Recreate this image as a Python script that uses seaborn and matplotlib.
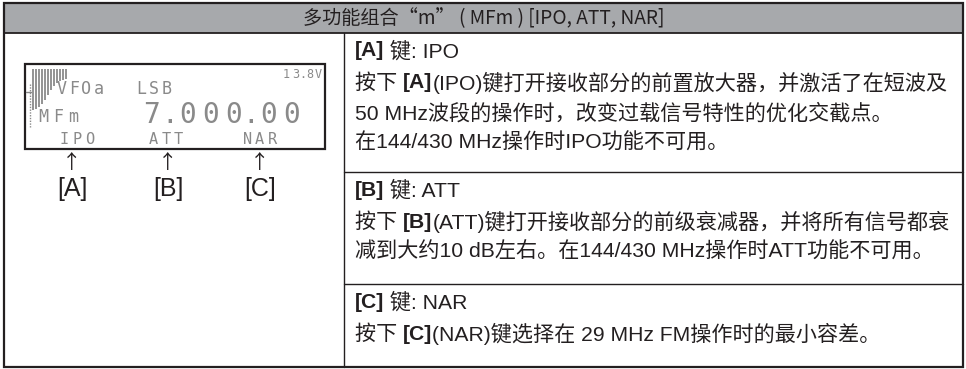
import matplotlib
matplotlib.use("Agg")
import matplotlib.pyplot as plt
import matplotlib.patches as patches
import seaborn as sns

# table content
title = "多功能组合“m” ( MFm ) [IPO, ATT, NAR]"
key_labels = ["[A]", "[B]", "[C]"]
key_names = ["IPO", "ATT", "NAR"]
descriptions = [
    ["按下 {key}(IPO)键打开接收部分的前置放大器，并激活了在短波及",
     "50 MHz波段的操作时，改变过载信号特性的优化交截点。",
     "在144/430 MHz操作时IPO功能不可用。"],
    ["按下 {key}(ATT)键打开接收部分的前级衰减器，并将所有信号都衰",
     "减到大约10 dB左右。在144/430 MHz操作时ATT功能不可用。"],
    ["按下 {key}(NAR)键选择在 29 MHz FM操作时的最小容差。"],
]
# LCD display texts
lcd_vfo = "VFOa"
lcd_mode = "LSB"
lcd_volt = "13.8V"
lcd_menu = "MFm"
lcd_freq = "7.000.00"
lcd_keys = ["IPO", "ATT", "NAR"]
smeter_bars = [41, 40, 38, 35, 31, 26, 21, 17, 14, 12, 11, 10]

sns.set_theme(style="white")
plt.rcParams["font.family"] = ["Liberation Sans", "Noto Sans CJK SC",
                               "DejaVu Sans"]

ink = "#231f20"
head_gray = "#a7a9ac"
lcd_gray = "#8a8a8a"

fig = plt.figure(figsize=(9.66, 3.69), dpi=100)
ax = fig.add_axes([0, 0, 1, 1])
ax.set_xlim(0, 966)
ax.set_ylim(369, 0)
ax.axis("off")
fig.canvas.draw()
renderer = fig.canvas.get_renderer()

L, R, T, B = 4, 963, 3, 367
HEAD_B = 33
COL = 344
row_tops = [HEAD_B, 172, 284]

# header band and grid
ax.add_patch(patches.Rectangle((L, T), R - L, HEAD_B - T, facecolor=head_gray,
                               edgecolor="none"))
ax.add_patch(patches.Rectangle((L, T), R - L, B - T, facecolor="none",
                               edgecolor=ink, lw=1.6))
ax.plot([L, R], [HEAD_B, HEAD_B], color=ink, lw=1.3)
ax.plot([COL, COL], [HEAD_B, B], color=ink, lw=1.0)
for y in row_tops[1:]:
    ax.plot([COL, R], [y, y], color=ink, lw=1.0)

ax.text((L + R) / 2, 18.5, title, ha="center", va="center", fontsize=13.8,
        color=ink, family=["Noto Sans CJK SC", "DejaVu Sans"])


def draw_runs(x, y, runs, size=15.2):
    # consecutive text pieces, bold where flagged
    for s, bold in runs:
        t = ax.text(x, y, s, ha="left", va="center", fontsize=size, color=ink,
                    fontweight="bold" if bold else "normal")
        x += t.get_window_extent(renderer).width
    return x


for i, top in enumerate(row_tops):
    draw_runs(355, top + 18, [(key_labels[i], True),
                              (" 键: " + key_names[i], False)])
    y = top + 50
    for line in descriptions[i]:
        if "{key}" in line:
            a, b = line.split("{key}")
            draw_runs(355, y, [(a, False), (key_labels[i], True), (b, False)])
        else:
            draw_runs(355, y, [(line, False)])
        y += 30


def lcd_text(x0, y, s, pitch, size):
    # dot-matrix style: every glyph on its own cell
    x = x0
    for ch in s:
        adv = pitch * (0.55 if ch == "." else 1.0)
        ax.text(x + adv / 2, y, ch, ha="center", va="center", fontsize=size,
                family="DejaVu Sans Mono", color=lcd_gray)
        x += adv


# LCD panel
ax.add_patch(patches.Rectangle((25, 64), 300, 85, facecolor="none",
                               edgecolor=ink, lw=1.6))
for j, h in enumerate(smeter_bars):
    ax.plot([33 + j * 3, 33 + j * 3], [69, 69 + h], color=lcd_gray, lw=1.3,
            solid_capstyle="butt")
ax.plot([30, 30], [84, 127], color=lcd_gray, lw=1.0, ls=(0, (1, 1)))
ax.plot([26, 31], [92, 92], color=lcd_gray, lw=1.0)
lcd_text(55, 89, lcd_vfo, 12.5, 12)
lcd_text(135, 89, lcd_mode, 12.5, 12)
lcd_text(282, 74, lcd_volt, 9, 8.5)
lcd_text(36, 117, lcd_menu, 15, 12)
lcd_text(140, 115, lcd_freq, 23, 20)
for x0, k in zip([58, 147, 241], lcd_keys):
    lcd_text(x0, 140, k, 12.5, 11)

# arrows and key letters
for xk, k in zip([72, 168, 260], key_labels):
    ax.text(xk, 163, "↑", fontsize=14, ha="center", va="center", color=ink,
            family="Noto Sans CJK SC")
    ax.text(xk, 189, k, fontsize=18, ha="center", va="center", color=ink)

fig.savefig("out.png", dpi=100)
plt.close(fig)
